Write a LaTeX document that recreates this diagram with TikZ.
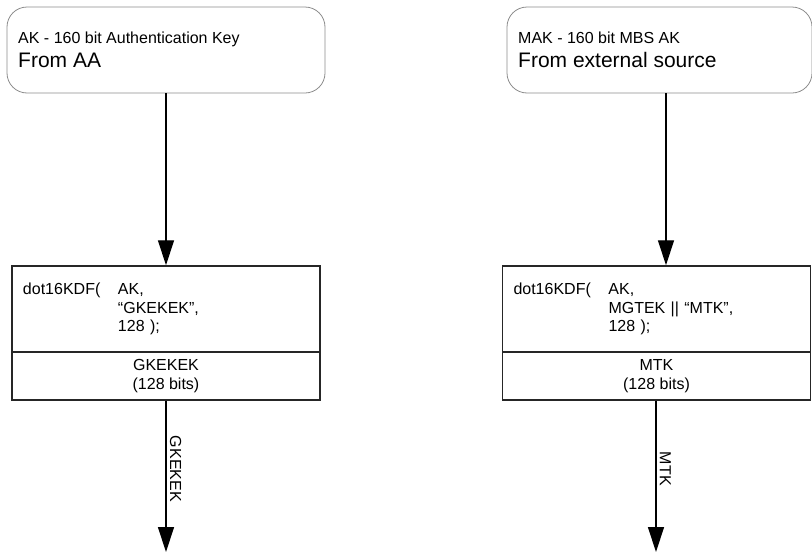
\documentclass[tikz,border=0pt]{standalone}
\usepackage{fontspec}
\setmainfont{Liberation Sans}
\usetikzlibrary{arrows.meta}

\tikzset{
	srcbox/.style = {draw = black!45, line width = 0.8pt, rounded corners = 20pt, minimum height = 86pt, inner sep = 0pt},
	kdfbox/.style = {draw = black!85, line width = 1.5pt, minimum width = 308pt, minimum height = 86pt, text width = 286pt, inner xsep = 11pt, align = left, font = \fontsize{16}{18.5}\selectfont},
	keybox/.style = {draw = black!85, line width = 1.5pt, minimum width = 308pt, minimum height = 48pt, align = center, font = \fontsize{16}{19}\selectfont},
	flow/.style = {line width = 1.3pt, -{Triangle[length = 25pt, width = 16pt]}},
	arrlabel/.style = {pos = 0.45, rotate = -90, anchor = south, font = \fontsize{16}{19}\selectfont},
	smalltxt/.style = {anchor = base west, inner sep = 0pt, font = \fontsize{16}{19}\selectfont},
	bigtxt/.style = {anchor = base west, inner sep = 0pt, font = \fontsize{21}{24}\selectfont}
}

\begin{document}
\begin{tikzpicture}[x = 1pt, y = -1pt]
			\useasboundingbox (0,0) rectangle (812,552);
			% AK branch
			\node [srcbox, minimum width = 318pt] (akSrc) at (166,50) {};
			\node [smalltxt] (akName) at (18,43) {AK - 160 bit Authentication Key};
			\node [bigtxt] (akFrom) at (18,67) {From AA};
			\node [kdfbox] (kdfA) at (166,309) {\makebox[95pt][l]{dot16KDF(}AK,\\ \hspace*{95pt}“GKEKEK”,\\ \hspace*{95pt}128 );};
			\node [keybox] (keyA) at (166,376) {GKEKEK\\(128 bits)};
			\coordinate (gkOut) at (166,552);
			\draw [flow] (akSrc) -- (kdfA);
			\draw [flow] (keyA) -- node [arrlabel] (gkLabel) {GKEKEK} (gkOut);
			%
			% MAK branch
			\node [srcbox, minimum width = 305pt] (makSrc) at (659.5,50) {};
			\node [smalltxt] (makName) at (518,43) {MAK - 160 bit MBS AK};
			\node [bigtxt] (makFrom) at (518,67) {From external source};
			\node [kdfbox] (kdfB) at (656.5,309) {\makebox[95pt][l]{dot16KDF(}AK,\\ \hspace*{95pt}MGTEK || “MTK”,\\ \hspace*{95pt}128 );};
			\node [keybox] (keyB) at (656.5,376) {MTK\\(128 bits)};
			\coordinate (mtkOut) at (656,552);
			\draw [flow] ([xshift = 6.5pt]makSrc.south) -- ([xshift = 9.5pt]kdfB.north);
			\draw [flow] ([xshift = -0.5pt]keyB.south) -- node [arrlabel] (mtkLabel) {MTK} (mtkOut);
\end{tikzpicture}
\end{document}
